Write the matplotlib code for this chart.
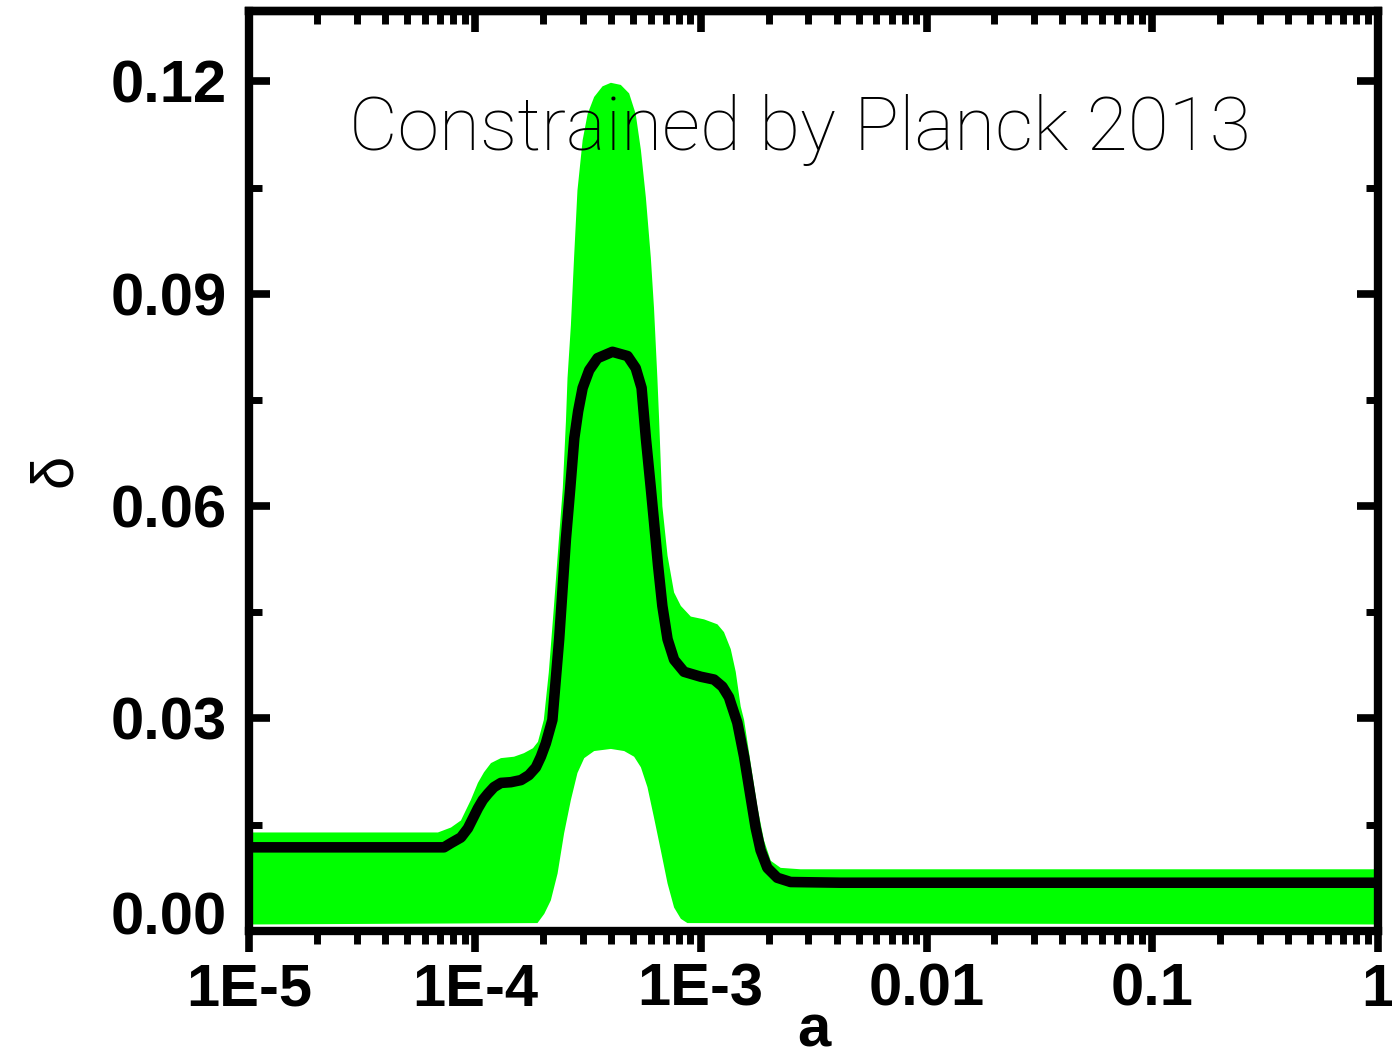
import numpy as np
import matplotlib
matplotlib.use("Agg")
import matplotlib.pyplot as plt
from matplotlib.ticker import FixedLocator, FixedFormatter, LogLocator, MultipleLocator
from matplotlib.transforms import ScaledTranslation

# best-fit delta(a), log10(a) on x
line_loga = [-5.0, -4.137, -4.106, -4.062, -4.031, -4.009, -3.987, -3.965, -3.942,
             -3.916, -3.885, -3.841, -3.796, -3.761, -3.730, -3.708, -3.686, -3.657,
             -3.627, -3.597, -3.578, -3.560, -3.543, -3.523, -3.494, -3.457, -3.391,
             -3.324, -3.288, -3.262, -3.243, -3.221, -3.207, -3.189, -3.170, -3.147,
             -3.118, -3.074, -3.000, -2.941, -2.904, -2.875, -2.867, -2.838, -2.808,
             -2.779, -2.757, -2.735, -2.705, -2.661, -2.602, -2.381, 0.0]
line_delta = [0.0118, 0.0118, 0.0124, 0.0132, 0.0145, 0.0159, 0.0173, 0.0185, 0.0194,
              0.0203, 0.0209, 0.0210, 0.0213, 0.0220, 0.0231, 0.0246, 0.0265, 0.0298,
              0.0412, 0.0554, 0.0625, 0.0696, 0.0734, 0.0767, 0.0792, 0.0809, 0.0818,
              0.0812, 0.0795, 0.0767, 0.0696, 0.0625, 0.0578, 0.0516, 0.0459, 0.0412,
              0.0383, 0.0366, 0.0359, 0.0355, 0.0345, 0.0330, 0.0322, 0.0294, 0.0246,
              0.0189, 0.0146, 0.0114, 0.0089, 0.0075, 0.0069, 0.0068, 0.0068]

# upper edge of the allowed band
upper_loga = [-5.0, -4.164, -4.106, -4.062, -4.018, -3.987, -3.960, -3.929, -3.885,
              -3.827, -3.783, -3.743, -3.721, -3.695, -3.673, -3.650, -3.628, -3.611,
              -3.597, -3.590, -3.575, -3.561, -3.546, -3.523, -3.501, -3.472, -3.435,
              -3.398, -3.354, -3.317, -3.288, -3.265, -3.243, -3.221, -3.207, -3.192,
              -3.184, -3.170, -3.147, -3.118, -3.088, -3.044, -2.985, -2.926, -2.897,
              -2.867, -2.845, -2.823, -2.808, -2.779, -2.749, -2.720, -2.690, -2.646,
              -2.558, 0.0]
upper_delta = [0.0139, 0.0139, 0.0146, 0.0156, 0.0185, 0.0209, 0.0224, 0.0237, 0.0244,
               0.0246, 0.0251, 0.0258, 0.0267, 0.0298, 0.0365, 0.0459, 0.0554, 0.0625,
               0.0720, 0.0781, 0.0856, 0.0951, 0.1046, 0.1117, 0.1154, 0.1178, 0.1193,
               0.1198, 0.1195, 0.1183, 0.1154, 0.1103, 0.1036, 0.0951, 0.0880, 0.0781,
               0.0720, 0.0600, 0.0530, 0.0478, 0.0459, 0.0444, 0.0440, 0.0433, 0.0422,
               0.0398, 0.0366, 0.0317, 0.0298, 0.0237, 0.0175, 0.0128, 0.0099, 0.0089,
               0.0087, 0.0087]

# lower edge of the allowed band
lower_loga = [-5.0, -3.723, -3.693, -3.664, -3.634, -3.605, -3.575, -3.546, -3.516,
              -3.472, -3.398, -3.339, -3.295, -3.265, -3.236, -3.207, -3.177, -3.147,
              -3.118, -3.088, -3.059, 0.0]
lower_delta = [0.0009, 0.0011, 0.0024, 0.0043, 0.0081, 0.0138, 0.0185, 0.0223, 0.0244,
               0.0254, 0.0257, 0.0254, 0.0246, 0.0231, 0.0203, 0.0160, 0.0114, 0.0067,
               0.0033, 0.0017, 0.0011, 0.0009]

x_ticks = [1e-5, 1e-4, 1e-3, 1e-2, 1e-1, 1]
x_labels = ["1E-5", "1E-4", "1E-3", "0.01", "0.1", "1"]
y_ticks = [0.0, 0.03, 0.06, 0.09, 0.12]
y_labels = ["0.00", "0.03", "0.06", "0.09", "0.12"]

plt.rcParams["font.family"] = ["Liberation Sans", "DejaVu Sans"]

fig = plt.figure(figsize=(13.92, 10.59), dpi=100)
ax = fig.add_axes([0.179, 0.121, 0.811, 0.869])

band_x = np.concatenate([10 ** np.array(upper_loga), 10 ** np.array(lower_loga)[::-1]])
band_y = np.concatenate([upper_delta, lower_delta[::-1]])
ax.fill(band_x, band_y, color="#00ff00", lw=0, zorder=1)
ax.plot(10 ** np.array(line_loga), line_delta, color="black", lw=7.6,
        solid_joinstyle="round", solid_capstyle="butt", zorder=2)

ax.set_xscale("log")
ax.set_xlim(1e-5, 1)
ax.set_ylim(0, 0.13)

ax.xaxis.set_major_locator(FixedLocator(x_ticks))
ax.xaxis.set_major_formatter(FixedFormatter(x_labels))
ax.xaxis.set_minor_locator(LogLocator(base=10, subs=np.arange(2, 10), numticks=20))
ax.yaxis.set_major_locator(FixedLocator(y_ticks))
ax.yaxis.set_major_formatter(FixedFormatter(y_labels))
ax.yaxis.set_minor_locator(MultipleLocator(0.015))

for s in ax.spines.values():
    s.set_linewidth(6)
    s.set_joinstyle("round")

ax.tick_params(axis="both", which="major", length=15, width=5.5, labelsize=43)
ax.tick_params(axis="both", which="minor", length=9, width=5)
ax.tick_params(axis="x", which="both", direction="out", top=False, pad=8)
ax.tick_params(axis="y", which="both", direction="in", right=True, pad=16)

# top axis gets inward ticks
top = ax.secondary_xaxis("top")
top.set_xticks(x_ticks)
top.xaxis.set_minor_locator(LogLocator(base=10, subs=np.arange(2, 10), numticks=20))
top.tick_params(which="major", direction="in", length=15, width=5.5, labeltop=False)
top.tick_params(which="minor", direction="in", length=9, width=5)
top.spines["top"].set_linewidth(6)

for lab in ax.get_xticklabels() + ax.get_yticklabels():
    lab.set_fontweight("bold")

# nudge the 0.00 label up off the corner
y0 = ax.get_yticklabels()[0]
y0.set_transform(y0.get_transform() + ScaledTranslation(0, 0.18, fig.dpi_scale_trans))

ax.set_xlabel("a", fontsize=43, fontweight="bold", labelpad=-10)
ax.set_ylabel("δ", fontsize=43, labelpad=20)

ax.text(0.488, 0.849, "Constrained by Planck 2013", transform=ax.transAxes,
        ha="center", va="baseline", fontsize=54, fontfamily="Roboto", fontweight="light")

fig.savefig("out.png", dpi=100)
